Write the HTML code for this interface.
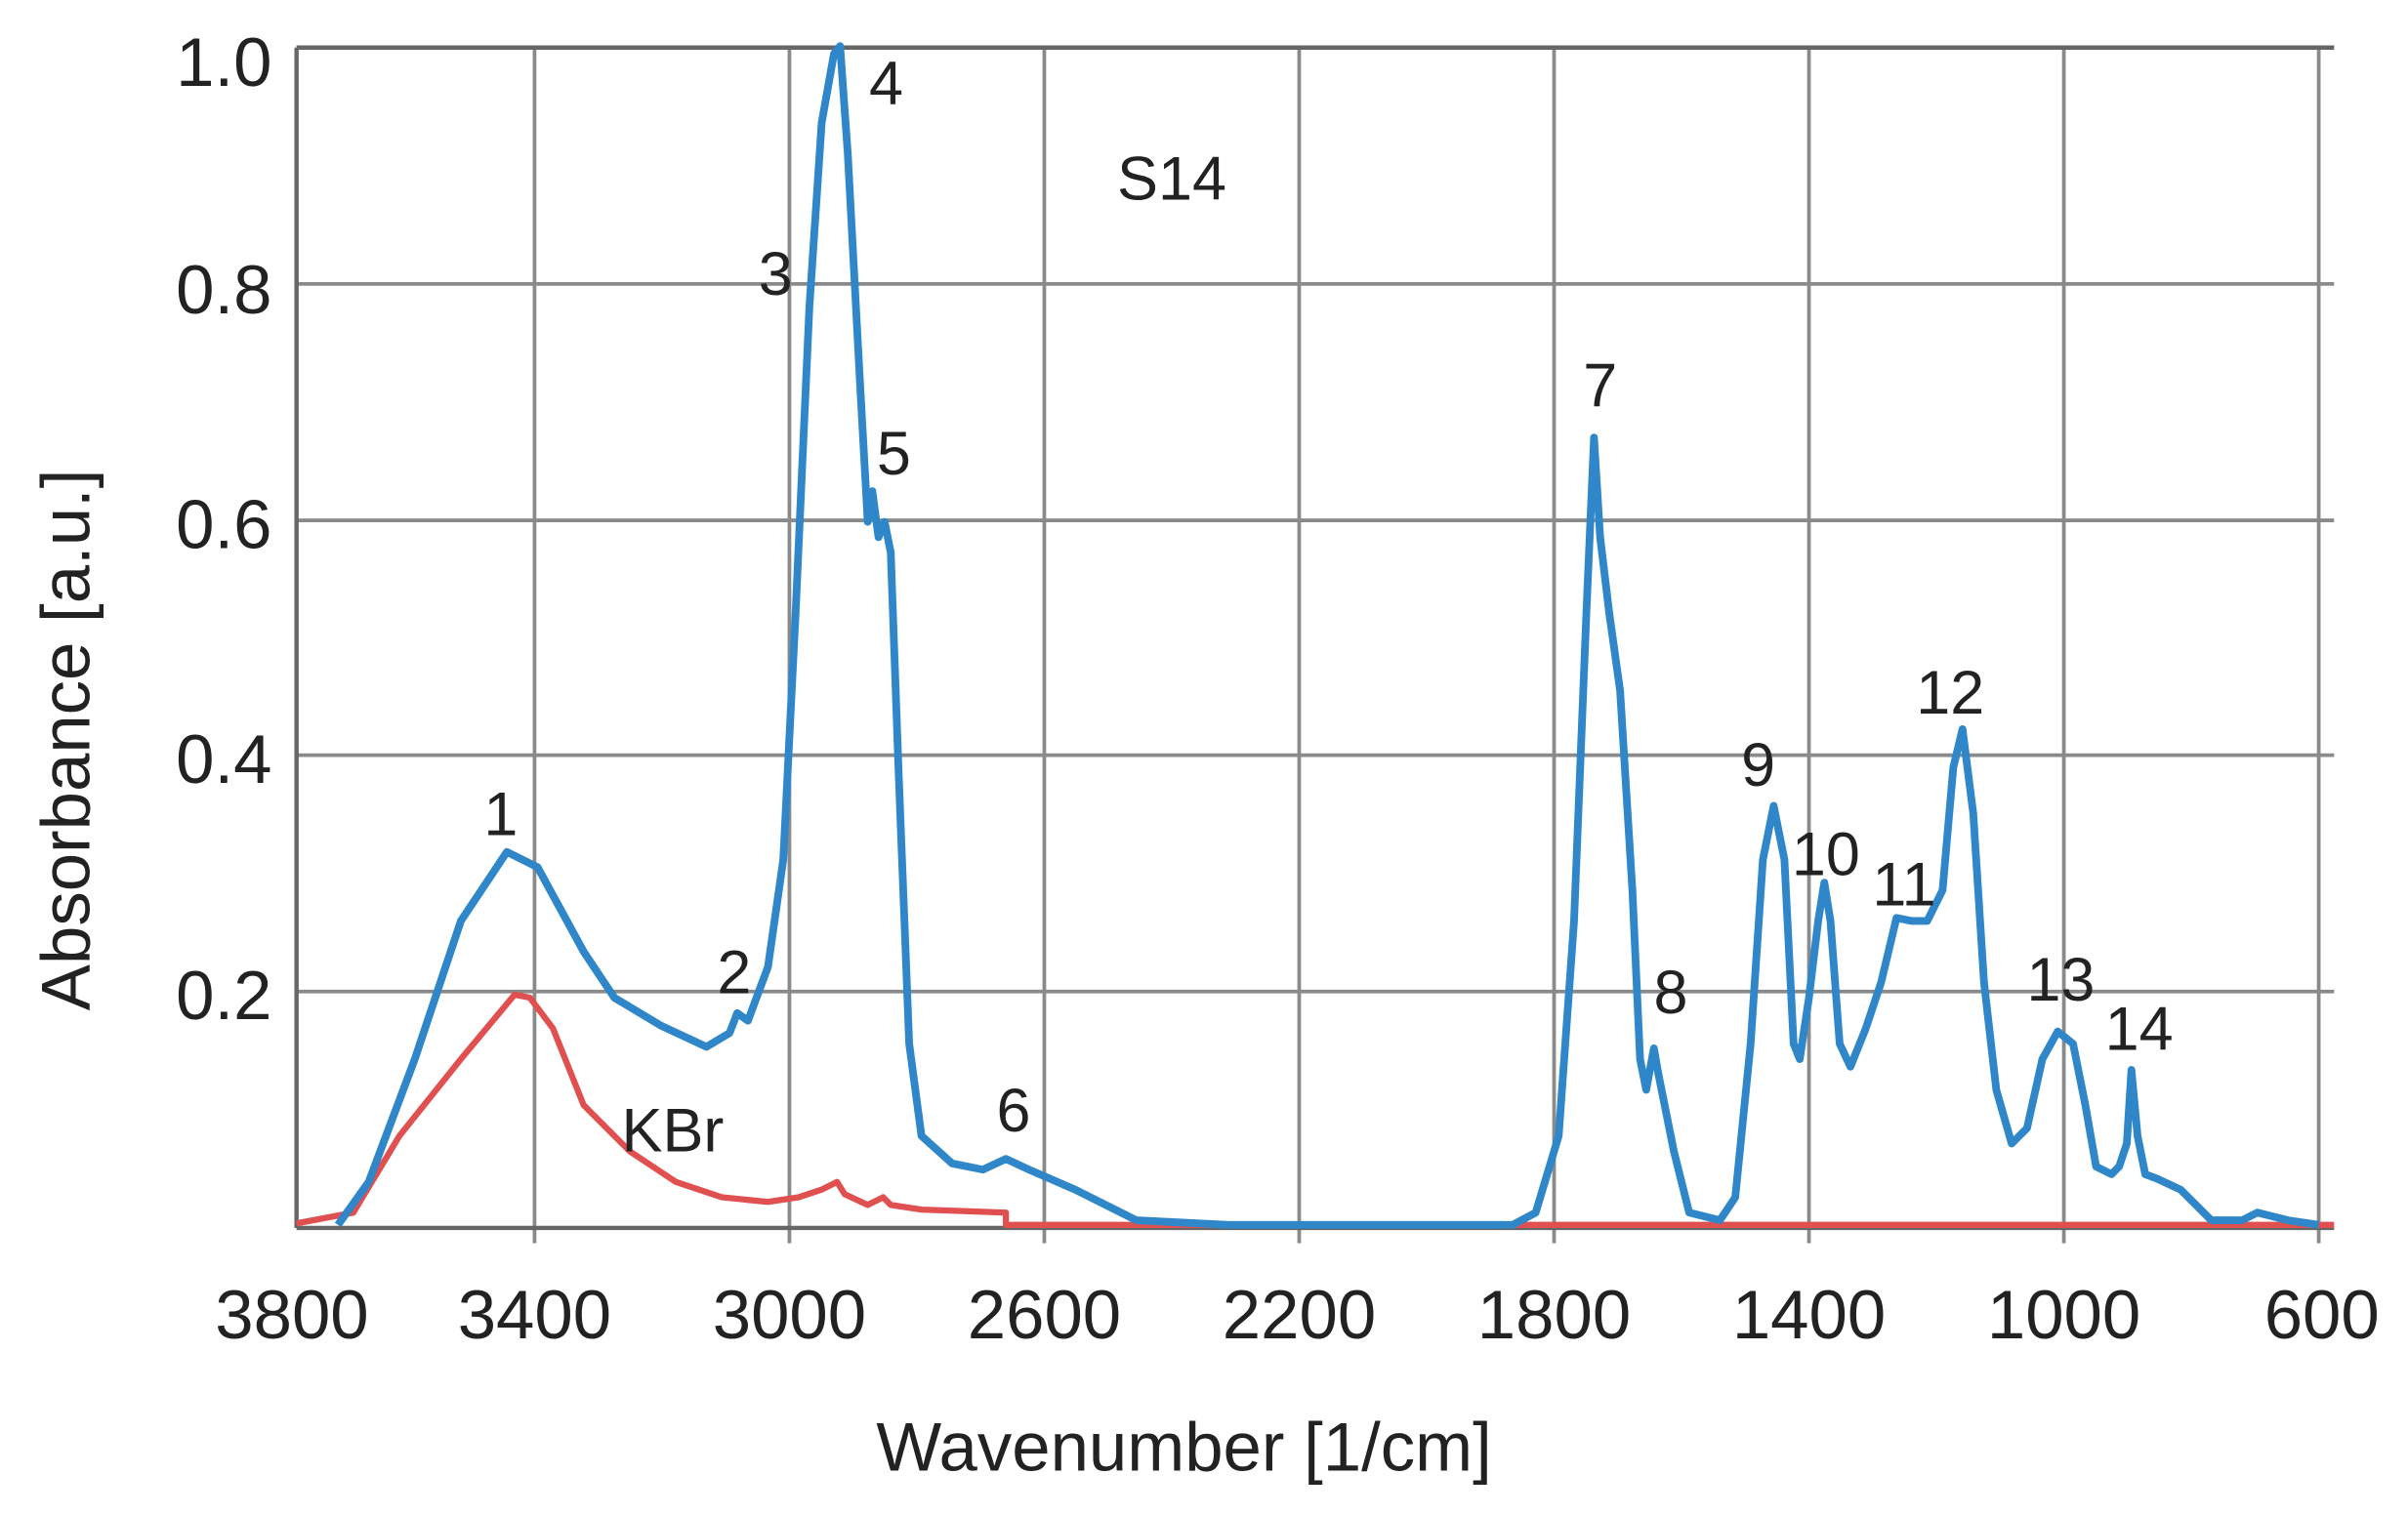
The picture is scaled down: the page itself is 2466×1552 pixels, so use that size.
<!DOCTYPE html>
<html><head><meta charset="utf-8"><style>html,body{margin:0;padding:0;background:#fff}svg{display:block}</style></head>
<body>
<svg width="2466" height="1552" viewBox="0 0 1568 987" xmlns="http://www.w3.org/2000/svg" font-family="Liberation Sans, Arial, sans-serif" fill="#222">
<rect width="1568" height="987" fill="#fff"/>
<g stroke="#8a8a8a" stroke-width="2.4">
<line x1="348" y1="31" x2="348" y2="810"/><line x1="514" y1="31" x2="514" y2="810"/><line x1="680" y1="31" x2="680" y2="810"/><line x1="846" y1="31" x2="846" y2="810"/><line x1="1012" y1="31" x2="1012" y2="810"/><line x1="1178" y1="31" x2="1178" y2="810"/><line x1="1344" y1="31" x2="1344" y2="810"/><line x1="1510" y1="31" x2="1510" y2="810"/>
<line x1="193" y1="185" x2="1520" y2="185"/><line x1="193" y1="339" x2="1520" y2="339"/><line x1="193" y1="492" x2="1520" y2="492"/><line x1="193" y1="646" x2="1520" y2="646"/>
</g>
<g stroke="#666" stroke-width="2.8" fill="none">
<line x1="193" y1="31" x2="1520" y2="31"/><line x1="193" y1="31" x2="193" y2="800"/><line x1="193" y1="800" x2="1520" y2="800"/>
</g>
<polyline fill="none" stroke="#e05050" stroke-width="4" stroke-linejoin="round" points="193,797 230,790 260,740 300,690 325,660 335,648 345,650 360,670 380,720 410,750 440,770 470,780 500,783 520,780 535,775 545,770 550,778 565,785 575,780 580,785 600,788 655,790 655,798 1520,798"/>
<polyline fill="none" stroke="#2f86c8" stroke-width="5" stroke-linejoin="round" points="220,798 240,770 270,690 300,600 330,555 350,565 380,620 400,650 430,668 460,682 475,673 480,660 487,665 500,630 510,560 518,400 527,200 535,80 543,35 547,30 552,100 560,250 565,340 568,320 572,350 576,340 580,360 585,500 592,680 600,740 620,758 640,762 655,755 670,762 700,775 740,795 800,798 985,798 1000,790 1015,740 1025,600 1033,400 1038,285 1042,350 1048,400 1055,450 1063,580 1068,690 1072,710 1077,683 1080,700 1090,750 1100,790 1120,795 1130,780 1140,680 1148,560 1155,525 1162,560 1168,680 1172,690 1178,650 1184,600 1188,575 1192,600 1198,680 1205,695 1215,670 1225,640 1235,598 1245,600 1255,600 1265,580 1272,500 1278,475 1285,530 1292,640 1300,710 1310,745 1320,735 1330,690 1340,672 1350,680 1358,720 1365,760 1375,765 1380,760 1385,745 1388,697 1392,740 1397,765 1405,768 1420,775 1440,795 1460,795 1470,790 1490,795 1510,798"/>
<g font-size="45" text-anchor="middle">
<text x="190" y="872">3800</text><text x="348" y="872">3400</text><text x="514" y="872">3000</text><text x="680" y="872">2600</text><text x="846" y="872">2200</text><text x="1012" y="872">1800</text><text x="1178" y="872">1400</text><text x="1344" y="872">1000</text><text x="1512" y="872">600</text>
</g>
<g font-size="45" text-anchor="end">
<text x="177" y="56">1.0</text><text x="177" y="204">0.8</text><text x="177" y="357">0.6</text><text x="177" y="510">0.4</text><text x="177" y="664">0.2</text>
</g>
<text x="771" y="958" font-size="45" text-anchor="middle">Wavenumber [1/cm]</text>
<text transform="translate(58,482) rotate(-90)" font-size="45" text-anchor="middle">Absorbance [a.u.]</text>
<g font-size="40" text-anchor="middle">
<text x="326" y="544">1</text><text x="478" y="647">2</text><text x="505" y="192">3</text><text x="577" y="68">4</text><text x="582" y="309">5</text><text x="660" y="737">6</text><text x="1042" y="265">7</text><text x="1088" y="660">8</text><text x="1145" y="512">9</text><text x="1189" y="570">10</text><text x="1240" y="590">11</text><text x="1270" y="465">12</text><text x="1342" y="652">13</text><text x="1393" y="684">14</text>
<text x="763" y="130">S14</text><text x="438" y="750">KBr</text>
</g>
</svg>
</body></html>
